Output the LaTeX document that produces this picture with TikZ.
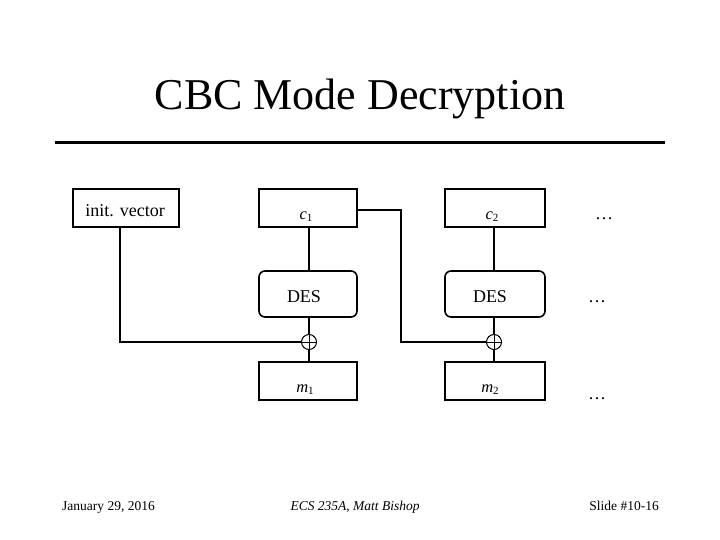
\documentclass[tikz,border=0pt]{standalone}
\usepackage{fontspec}
\setmainfont{Liberation Serif}
\newcommand{\sub}[2]{\textit{#1}\raisebox{-2pt}{\fontsize{11}{12}\selectfont #2}}
\begin{document}
\begin{tikzpicture}[x=1pt,y=-1pt,
  box/.style={draw,line width=1.6pt,minimum width=98pt,minimum height=38pt,inner sep=0pt},
  desbox/.style={box,rounded corners=6pt,minimum height=46pt},
  xorc/.style={draw,circle,line width=1pt,minimum size=15pt,inner sep=0pt},
  wire/.style={line width=1.6pt},
  lbl/.style={anchor=base,inner sep=0pt,font=\fontsize{16.5}{18}\selectfont},
  big/.style={anchor=base,inner sep=0pt,font=\fontsize{18}{20}\selectfont},
  dots/.style={anchor=base,inner sep=0pt,font=\fontsize{18}{20}\selectfont},
  foot/.style={anchor=base,inner sep=0pt,font=\fontsize{13.5}{16}\selectfont}]
\useasboundingbox (0,0) rectangle (720,540);
\node[anchor=base,inner sep=0pt,font=\fontsize{44}{48}\selectfont] (title) at (360,110) {CBC Mode Decryption};
\draw[line width=3pt] (55,143) coordinate (r1) -- (665,143) coordinate (r2);
\node[box,minimum width=106pt] (iv) at (126,208) {};
\node[big] (ivt) at (125,217) {init. vector};
\node[box] (c1) at (308,208) {};
\node[lbl] (c1t) at (306,219) {\sub{c}{1}};
\node[box,minimum width=100pt] (c2) at (495,208) {};
\node[lbl] (c2t) at (492,219) {\sub{c}{2}};
\node[desbox] (d1) at (308,294) {};
\node[big] (d1t) at (304,302) {DES};
\node[desbox,minimum width=100pt] (d2) at (495,294) {};
\node[big] (d2t) at (490,302) {DES};
\node[xorc] (x1) at (309,342) {};
\node[xorc] (x2) at (494,342) {};
\draw[line width=1pt] (x1.north) -- (x1.south) (x1.west) -- (x1.east);
\draw[line width=1pt] (x2.north) -- (x2.south) (x2.west) -- (x2.east);
\node[box] (m1) at (308,381) {};
\node[lbl] (m1t) at (305,392) {\sub{m}{1}};
\node[box,minimum width=100pt] (m2) at (495,381) {};
\node[lbl] (m2t) at (490,392) {\sub{m}{2}};
\draw[wire] (c1.south -| x1) -- (d1.north -| x1);
\draw[wire] (d1.south -| x1) -- (x1);
\draw[wire] (x1) -- (m1.north -| x1);
\draw[wire] (c2.south -| x2) -- (d2.north -| x2);
\draw[wire] (d2.south -| x2) -- (x2);
\draw[wire] (x2) -- (m2.north -| x2);
\coordinate (ivb) at (120,227);
\draw[wire] (ivb) |- (x1.west);
\coordinate (k) at (401,210);
\draw[wire] (c1.east |- k) -- (k) |- (x2.west);
\node[dots] (e1) at (604,219) {\dots};
\node[dots] (e2) at (597,302) {\dots};
\node[dots] (e3) at (597,399) {\dots};
\node[foot,anchor=base west] (f1) at (62,510) {January 29, 2016};
\node[foot,font=\fontsize{13.5}{16}\selectfont\itshape] (f2) at (355,510) {ECS 235A, Matt Bishop};
\node[foot,anchor=base east] (f3) at (659,510) {Slide \#10-16};
\end{tikzpicture}
\end{document}
